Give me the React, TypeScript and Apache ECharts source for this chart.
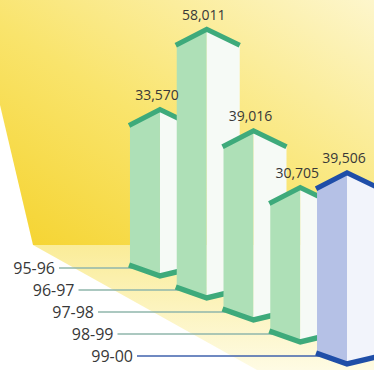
import React, { useEffect, useRef } from "react";
import * as echarts from "echarts";

const categories = ["95-96", "96-97", "97-98", "98-99", "99-00"];
const values = [33570, 58011, 39016, 30705, 39506];
const highlightIndex = 4;

const W = 374;
const H = 370;

export default function App() {
  const ref = useRef<HTMLDivElement>(null);

  useEffect(() => {
    if (!ref.current) return;
    const chart = echarts.init(ref.current, null, { renderer: "svg" });

    const DEPTH_Y = 22; // each successive bar sits lower (closer)
    const FRONT_W = 30;
    const SIDE_W = 33;
    const TOP_RISE = 16;
    const BOT_DROP = 11;
    const BOT_SIDE_RISE = 8;

    const renderItem = (params: any, api: any) => {
      const i = api.value(0);
      const v = api.value(1);
      const base = api.coord([i, 0]);
      const top = api.coord([i, v]);
      const dy = i * DEPTH_Y;
      const cx = base[0];
      const L = cx - FRONT_W / 2;
      const C = cx + FRONT_W / 2;
      const R = C + SIDE_W;
      const yB = base[1] + dy;
      const yT = top[1] + dy;
      const hl = i === highlightIndex;
      const frontCol = hl ? "#b5c1e6" : "#aee0b7";
      const sideCol = hl ? "#f2f4fb" : "#f6faf6";
      const edgeCol = hl ? "#1f4ea8" : "#3eaa7b";
      const leaderCol = hl ? "#3f62ad" : "#8fb6ab";
      const labelRight = 55 + i * 19.5;
      const lineY = yB + 3;

      return {
        type: "group",
        children: [
          {
            type: "line",
            shape: { x1: labelRight + 4, y1: lineY, x2: L + 2, y2: lineY },
            style: { stroke: leaderCol, lineWidth: 1.5 },
          },
          {
            type: "text",
            z2: 100,
            style: {
              text: categories[i],
              x: labelRight,
              y: lineY,
              align: "right",
              verticalAlign: "middle",
              fill: "#383838",
              font: "16px 'Open Sans', sans-serif",
            },
          },
          {
            type: "polygon",
            shape: { points: [[L, yT], [C, yT - TOP_RISE], [C, yB + BOT_DROP], [L, yB]] },
            style: { fill: frontCol },
          },
          {
            type: "polygon",
            shape: {
              points: [[C, yT - TOP_RISE], [R, yT], [R, yB + BOT_DROP - BOT_SIDE_RISE], [C, yB + BOT_DROP]],
            },
            style: { fill: sideCol },
          },
          {
            type: "polyline",
            shape: { points: [[L - 1, yT + 1], [C, yT - TOP_RISE + 1], [R, yT + 1]] },
            style: { stroke: edgeCol, lineWidth: 5, fill: null, lineJoin: "miter" },
          },
          {
            type: "polyline",
            shape: {
              points: [[L - 1, yB], [C, yB + BOT_DROP], [R, yB + BOT_DROP - BOT_SIDE_RISE]],
            },
            style: { stroke: edgeCol, lineWidth: 5.5, fill: null, lineJoin: "miter" },
          },
          {
            type: "text",
            z2: 100,
            style: {
              text: values[i].toLocaleString("en-US"),
              x: C - 3,
              y: yT - TOP_RISE - 14,
              align: "center",
              verticalAlign: "middle",
              fill: "#383838",
              font: "14px 'Open Sans', sans-serif",
            },
          },
        ],
      };
    };

    chart.setOption({
      animation: false,
      backgroundColor: "#ffffff",
      grid: { left: 121.6, right: 18.6, top: 14, bottom: 105 },
      xAxis: { type: "category", data: categories, show: false },
      yAxis: { type: "value", min: 0, max: 60000, show: false },
      graphic: [
        {
          type: "polygon",
          z: 0,
          shape: { points: [[0, 0], [W, 0], [W, 245], [33, 245], [0, 105]] },
          style: {
            fill: new echarts.graphic.LinearGradient(0, 1, 1, 0, [
              { offset: 0, color: "#f5d32e" },
              { offset: 0.45, color: "#f9e46c" },
              { offset: 1, color: "#fdf6cc" },
            ]),
          },
        },
        {
          type: "polygon",
          z: 0,
          shape: { points: [[33, 245], [W, 245], [W, H], [257, H]] },
          style: {
            fill: new echarts.graphic.LinearGradient(0, 0, 0, 1, [
              { offset: 0, color: "#faec98" },
              { offset: 1, color: "#fefbe4" },
            ]),
          },
        },
      ],
      series: [
        {
          type: "custom",
          z: 10,
          renderItem,
          data: values.map((v, i) => [i, v]),
        },
      ],
    });

    return () => chart.dispose();
  }, []);

  return (
    <div
      ref={ref}
      style={{ position: "fixed", left: 0, top: 0, width: W, height: H }}
    />
  );
}
